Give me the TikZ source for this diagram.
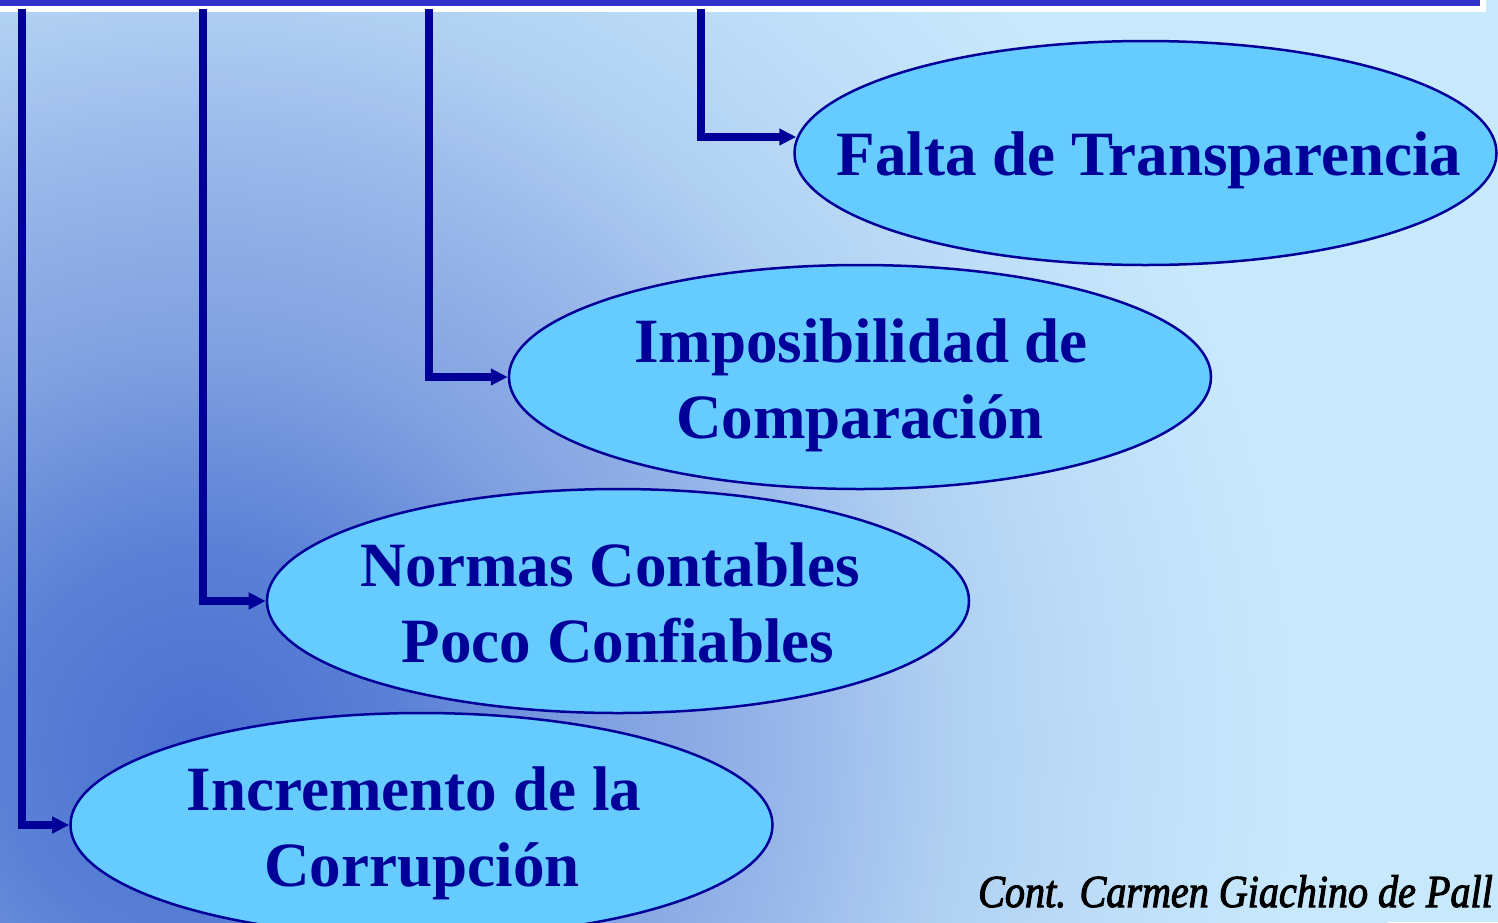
\documentclass[tikz,border=0pt]{standalone}
\usepackage{fontspec}
\setmainfont{Liberation Serif}
\newfontfamily\sigfont[FakeStretch=0.875,FakeBold=2.2]{Liberation Serif Italic}
\usetikzlibrary{shapes.geometric,arrows.meta}
\definecolor{dkblue}{HTML}{000099}
\definecolor{ellfill}{HTML}{66CCFF}
\definecolor{barblue}{HTML}{3333CC}
\definecolor{bgA}{HTML}{4A6FD0}
\definecolor{bgB}{HTML}{5A80D6}
\definecolor{bgC}{HTML}{80A0E0}
\definecolor{bgD}{HTML}{9AB8EA}
\definecolor{bgF}{HTML}{B0D0F2}
\definecolor{bgG}{HTML}{C0E0FA}
\definecolor{bgE}{HTML}{C8E8FC}
\pgfdeclareradialshading{bgshade}{\pgfpoint{0bp}{0bp}}{color(0bp)=(bgA); color(4.17bp)=(bgB); color(8.33bp)=(bgC); color(12.5bp)=(bgD); color(15.6bp)=(bgF); color(19.8bp)=(bgG); color(22.9bp)=(bgE); color(50bp)=(bgE)}
\tikzset{
  ell/.style={ellipse, draw=dkblue, fill=ellfill, line width=2.5bp, minimum width=702bp, minimum height=224bp, inner sep=0pt},
  lbl/.style={font=\fontsize{63.3}{76}\selectfont\bfseries, text=dkblue, inner sep=0pt, anchor=base},
  conn/.style={draw=dkblue, line width=8bp, line join=miter, -{Triangle[length=17bp,width=16bp]}},
  sig/.style={font=\fontsize{46}{54}\selectfont\sigfont, text=black, inner sep=0pt, anchor=base west}
}
\begin{document}
\begin{tikzpicture}[x=1bp,y=-1bp]
\useasboundingbox (0,0) rectangle (1498,922);
\clip (0,0) rectangle (1498,922);
\fill[bgE] (0,0) rectangle (1498,922);
\shade[shading=bgshade] (200,750) circle[radius=1200];
\fill[white] (0,0) rectangle (1486,12);

\node[ell] (e1) at (1145.5,153) {};
\node[ell] (e2) at (860,377) {};
\node[ell] (e3) at (618,601) {};
\node[ell] (e4) at (421.5,825) {};

\node[lbl] (t1) at (1149,175) {Falta de Transparencia};
\node[lbl] (t2a) at (861,362) {Imposibilidad de};
\node[lbl] (t2b) at (860,438) {Comparación};
\node[lbl] (t3a) at (610,586) {Normas Contables};
\node[lbl] (t3b) at (618,662) {Poco Confiables};
\node[lbl] (t4a) at (414,810) {Incremento de la};
\node[lbl] (t4b) at (422,886) {Corrupción};

\coordinate (s1) at (22,9);
\coordinate (s2) at (203,9);
\coordinate (s3) at (429,9);
\coordinate (s4) at (701,9);

\draw[conn] (s4) |- ([shift={(3bp,16bp)}]e1.west);
\draw[conn] (s3) |- (e2.west);
\draw[conn] (s2) |- (e3.west);
\draw[conn] (s1) |- (e4.west);

\fill[barblue] (0,0) rectangle (1480,6);

\node[sig] (sg) at (978,907) {Cont. Carmen Giachino de Pall};
\end{tikzpicture}
\end{document}
